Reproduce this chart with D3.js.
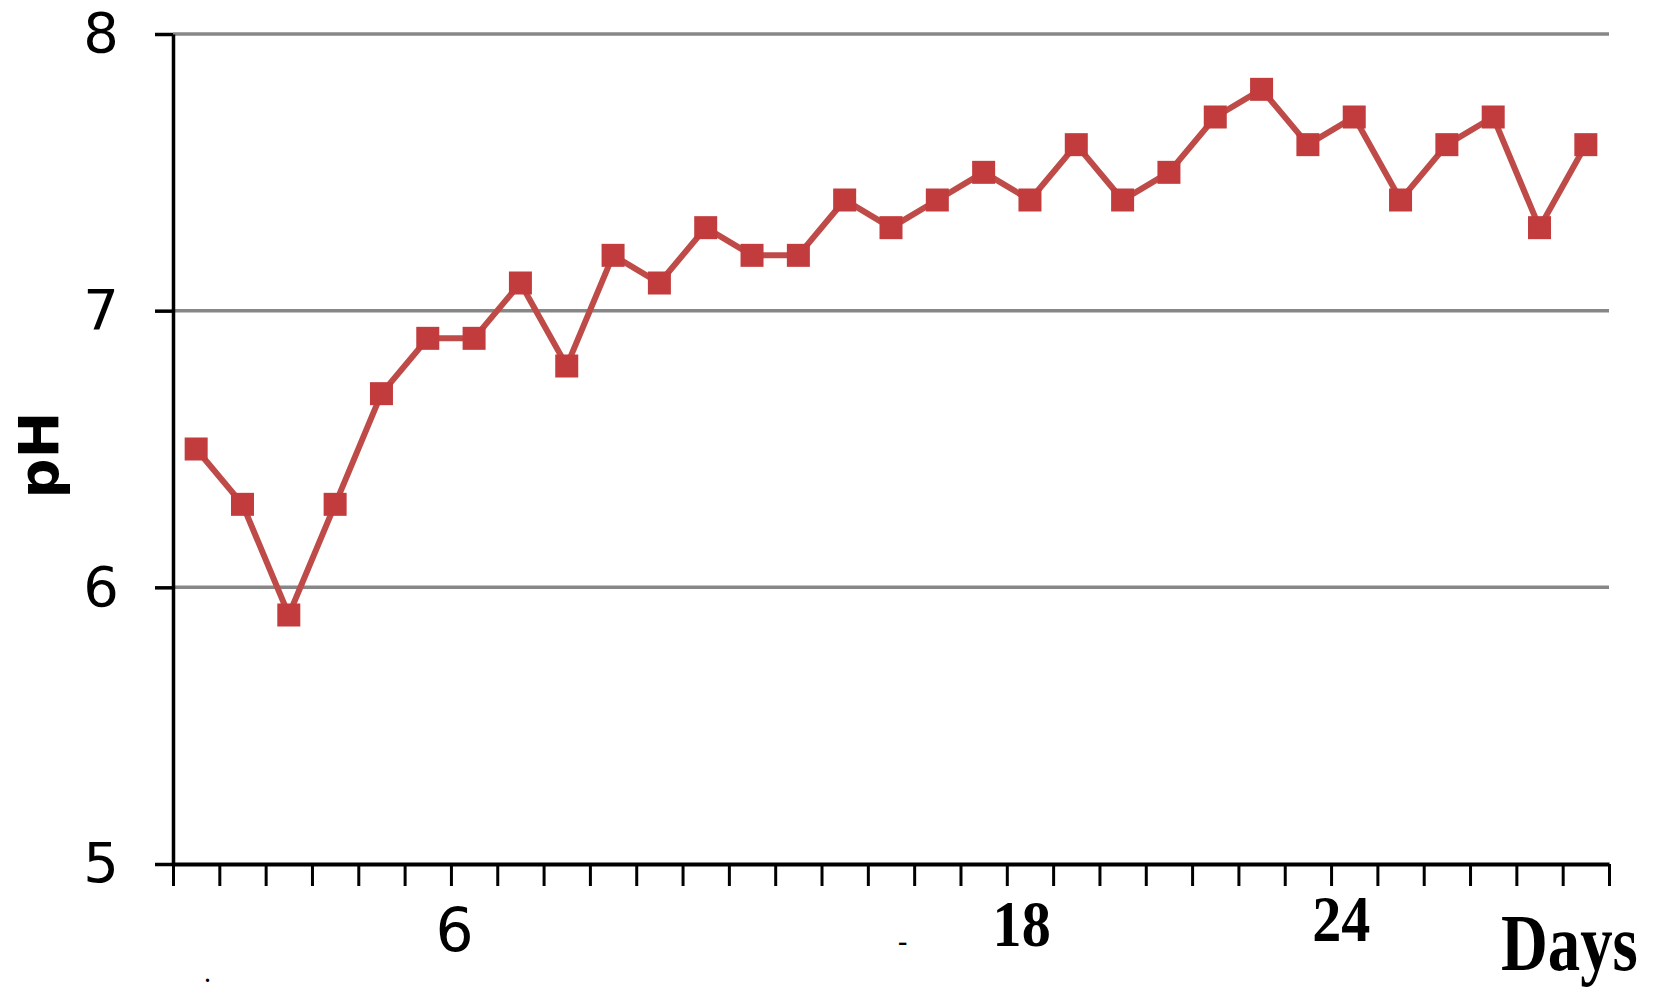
<!DOCTYPE html>
<html>
<head>
<meta charset="utf-8">
<script src="https://cdn.jsdelivr.net/npm/d3@7"></script>
<style>
  html, body { margin: 0; padding: 0; background: #ffffff; }
  svg { display: block; }
</style>
</head>
<body>
<svg id="chart" width="1653" height="1004"></svg>
<script>
// ---- data ----
const days = d3.range(1, 32);
const phValues = [6.5, 6.3, 5.9, 6.3, 6.7, 6.9, 6.9, 7.1, 6.8, 7.2,
                  7.1, 7.3, 7.2, 7.2, 7.4, 7.3, 7.4, 7.5, 7.4, 7.6,
                  7.4, 7.5, 7.7, 7.8, 7.6, 7.7, 7.4, 7.6, 7.7, 7.3, 7.6];
const yTicks = [5, 6, 7, 8];
const yGrid = [6, 7, 8];
const xTickLabels = ["6", "18", "24"];
const xLabelAt = [6.08, 18.32, 25.22];   // where the hand-placed labels sit, in day units
const xTitle = "Days";
const yTitle = "pH";

// ---- layout ----
const svg = d3.select("#chart");
const plotLeft = 173, plotRight = 1609, plotTop = 34, plotBottom = 864;

const x = d3.scaleLinear().domain([0, days.length]).range([plotLeft, plotRight]);
const y = d3.scaleLinear().domain([5, 8]).range([plotBottom, plotTop]);
const cx = d => x(d - 0.5);

// gridlines
svg.append("g").selectAll("line").data(yGrid).join("line")
  .attr("x1", plotLeft).attr("x2", plotRight)
  .attr("y1", d => y(d)).attr("y2", d => y(d))
  .attr("stroke", "#878787").attr("stroke-width", 3.5);

// y axis
const yAxis = svg.append("g").attr("transform", `translate(${plotLeft},0)`)
  .call(d3.axisLeft(y).tickValues(yTicks).tickFormat(d3.format("d"))
        .tickSize(18).tickSizeOuter(0).tickPadding(36));
yAxis.select(".domain").attr("stroke", "#000").attr("stroke-width", 3.5);
yAxis.selectAll(".tick line").attr("stroke", "#000").attr("stroke-width", 3.5);
yAxis.selectAll(".tick text")
  .attr("fill", "#000")
  .style("font-family", "'DejaVu Sans', sans-serif")
  .style("font-size", "56px");

// x axis
const xAxis = svg.append("g").attr("transform", `translate(0,${plotBottom})`)
  .call(d3.axisBottom(x).tickValues(d3.range(0, days.length + 1))
        .tickFormat("").tickSize(22).tickSizeOuter(0));
xAxis.select(".domain").attr("stroke", "#000").attr("stroke-width", 4);
xAxis.selectAll(".tick line").attr("stroke", "#000").attr("stroke-width", 3);

// x tick labels (hand placed in original)
const labelStyles = [
  { family: "'DejaVu Sans', sans-serif", size: 60, weight: "normal", base: 951, sx: 1 },
  { family: "'Liberation Serif', serif", size: 66, weight: "bold", base: 946, sx: 0.88 },
  { family: "'Liberation Serif', serif", size: 66, weight: "bold", base: 941, sx: 0.88 }
];
xTickLabels.forEach((t, i) => {
  const s = labelStyles[i];
  svg.append("text")
    .attr("transform", `translate(${x(xLabelAt[i])},${s.base}) scale(${s.sx},1)`)
    .attr("text-anchor", "middle")
    .style("font-family", s.family)
    .style("font-size", s.size + "px")
    .style("font-weight", s.weight)
    .attr("fill", "#000")
    .text(t);
});

// x title
svg.append("text")
  .attr("transform", "translate(1501,970) scale(0.81,1)")
  .style("font-family", "'Liberation Serif', serif")
  .style("font-size", "80px").style("font-weight", "bold")
  .attr("fill", "#000")
  .text(xTitle);

// y title
svg.append("text")
  .attr("transform", "translate(58,455) rotate(-90)")
  .attr("text-anchor", "middle")
  .style("font-family", "'DejaVu Sans', sans-serif")
  .style("font-size", "56px").style("font-weight", "bold")
  .attr("fill", "#000")
  .text(yTitle);

// stray marks in the original
svg.append("text").attr("x", 205).attr("y", 982)
  .style("font-family", "'Liberation Serif', serif").style("font-size", "20px")
  .style("font-weight", "bold").attr("fill", "#000").text(".");
svg.append("text").attr("x", 898).attr("y", 950)
  .style("font-family", "'Liberation Serif', serif").style("font-size", "28px")
  .style("font-weight", "bold").attr("fill", "#000").text("-");

// series line
const line = d3.line().x((d, i) => cx(days[i])).y(d => y(d));
svg.append("path").datum(phValues)
  .attr("d", line)
  .attr("fill", "none")
  .attr("stroke", "#be4b48")
  .attr("stroke-width", 6)
  .attr("stroke-linejoin", "miter");

// markers
const m = 23;
svg.append("g").selectAll("rect").data(phValues).join("rect")
  .attr("x", (d, i) => cx(days[i]) - m / 2)
  .attr("y", d => y(d) - m / 2)
  .attr("width", m).attr("height", m)
  .attr("fill", "#c23c3d");
</script>
</body>
</html>
